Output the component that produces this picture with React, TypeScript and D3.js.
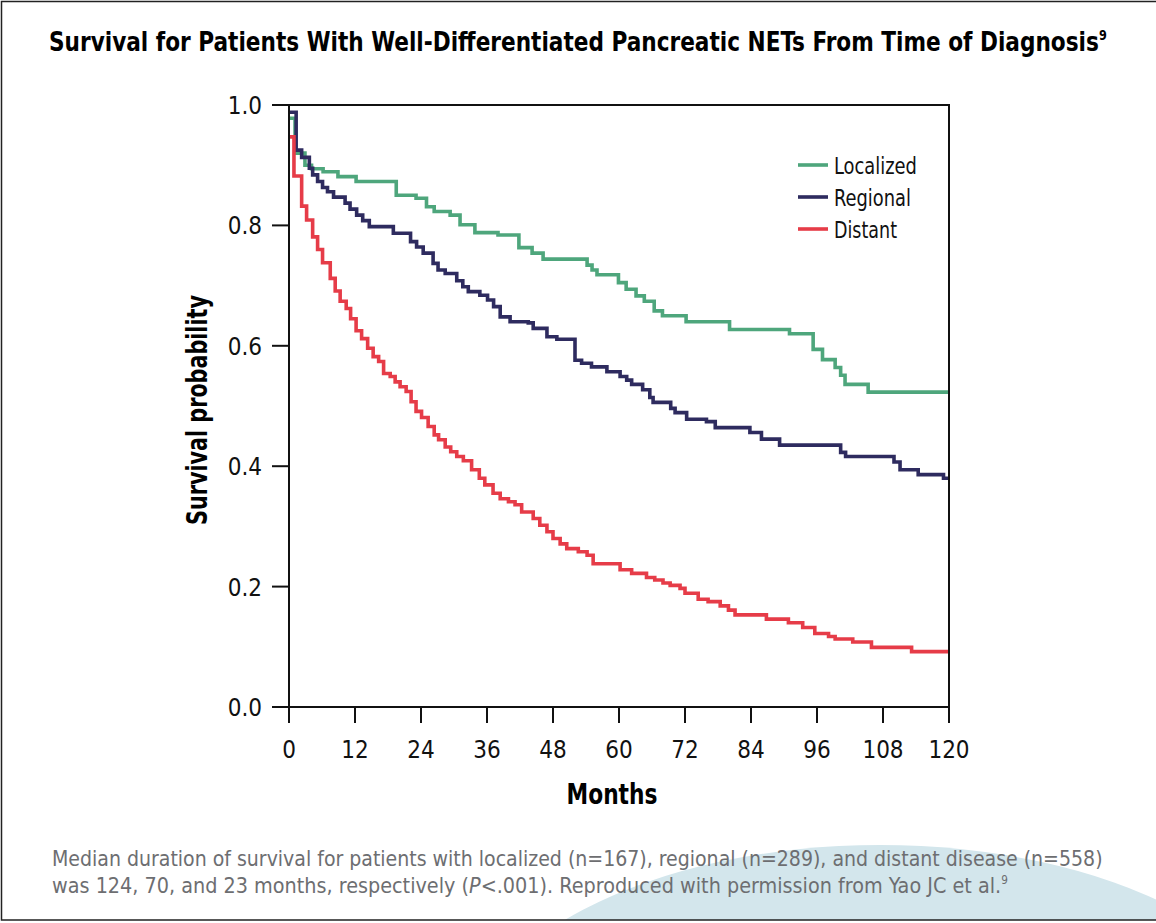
import React, { useEffect, useLayoutEffect, useRef, useState } from "react";
import * as d3 from "d3";

// ---- Data ----
const seriesNames = ["Localized", "Regional", "Distant"];

const localizedTimes = [0, 1.1, 2.9, 4.1, 6.2, 8.9, 12.2, 19.5, 23.1, 25.0, 26.4, 29.3, 31.1, 33.8, 38.0, 41.8, 44.2, 46.2, 54.2, 55.1, 56.0, 59.9, 61.3, 63.1, 64.6, 66.4, 67.9, 72.2, 80.1, 91.0, 95.3, 97.0, 99.3, 100.3, 101.1, 105.3, 120];
const localizedSurv = [0.978, 0.920, 0.900, 0.894, 0.889, 0.881, 0.873, 0.850, 0.845, 0.831, 0.823, 0.817, 0.801, 0.788, 0.784, 0.763, 0.754, 0.744, 0.734, 0.726, 0.718, 0.705, 0.694, 0.683, 0.674, 0.658, 0.650, 0.640, 0.627, 0.620, 0.594, 0.577, 0.564, 0.551, 0.536, 0.523, 0.523];

const regionalTimes = [0, 1.3, 2.3, 3.7, 4.3, 5.2, 6.1, 7.0, 8.1, 10.2, 11.1, 12.3, 13.4, 14.6, 18.97, 22.1, 23.2, 24.4, 26.2, 27.1, 28.4, 30.5, 31.6, 32.6, 34.7, 36.1, 37.2, 38.4, 40.2, 43.5, 44.4, 46.9, 48.7, 52.0, 53.2, 55.0, 57.8, 60.2, 61.4, 62.3, 64.3, 65.6, 66.2, 69.4, 70.2, 72.3, 75.9, 77.5, 83.8, 85.9, 89.2, 100.3, 101.2, 110.0, 111.1, 114.4, 119.0, 120];
const regionalSurv = [0.988, 0.925, 0.913, 0.895, 0.884, 0.873, 0.863, 0.856, 0.847, 0.837, 0.827, 0.817, 0.808, 0.798, 0.787, 0.773, 0.764, 0.754, 0.737, 0.726, 0.720, 0.708, 0.698, 0.690, 0.684, 0.676, 0.665, 0.648, 0.640, 0.638, 0.629, 0.615, 0.611, 0.576, 0.571, 0.565, 0.557, 0.549, 0.543, 0.536, 0.527, 0.514, 0.506, 0.496, 0.489, 0.478, 0.474, 0.464, 0.456, 0.445, 0.435, 0.423, 0.416, 0.407, 0.394, 0.386, 0.380, 0.380];

const distantTimes = [0, 0.9, 2.3, 3.2, 4.3, 5.2, 6.1, 7.5, 8.4, 9.3, 10.4, 11.2, 12.2, 13.2, 14.3, 15.3, 16.3, 17.2, 18.4, 19.3, 20.2, 21.3, 22.2, 23.1, 24.1, 25.3, 26.4, 27.2, 28.4, 29.4, 30.5, 31.7, 33.2, 34.6, 35.6, 37.1, 38.4, 39.9, 41.1, 42.3, 44.4, 45.6, 46.9, 48.0, 49.3, 50.5, 52.6, 54.2, 55.3, 60.2, 62.3, 65.0, 66.5, 68.0, 69.3, 71.1, 72.0, 74.4, 76.2, 78.4, 79.9, 81.1, 86.8, 90.8, 93.4, 95.6, 98.1, 99.3, 102.5, 105.9, 113.2, 120];
const distantSurv = [0.947, 0.882, 0.832, 0.809, 0.781, 0.760, 0.738, 0.712, 0.691, 0.674, 0.662, 0.645, 0.625, 0.612, 0.596, 0.582, 0.574, 0.554, 0.549, 0.540, 0.532, 0.524, 0.507, 0.491, 0.481, 0.466, 0.452, 0.444, 0.432, 0.424, 0.416, 0.409, 0.394, 0.380, 0.369, 0.355, 0.346, 0.341, 0.336, 0.324, 0.313, 0.302, 0.291, 0.280, 0.271, 0.263, 0.258, 0.252, 0.238, 0.228, 0.222, 0.215, 0.211, 0.206, 0.202, 0.197, 0.189, 0.179, 0.175, 0.168, 0.161, 0.153, 0.146, 0.140, 0.132, 0.122, 0.117, 0.113, 0.108, 0.099, 0.092, 0.092];

const xTicks = [0, 12, 24, 36, 48, 60, 72, 84, 96, 108, 120];
const yTicks = [0, 0.2, 0.4, 0.6, 0.8, 1.0];

const titleText = "Survival for Patients With Well-Differentiated Pancreatic NETs From Time of Diagnosis";
const captionLine1 = "Median duration of survival for patients with localized (n=167), regional (n=289), and distant disease (n=558)";
const captionLine2a = "was 124, 70, and 23 months, respectively (";
const captionLine2b = "P";
const captionLine2c = "<.001). Reproduced with permission from Yao JC et al.";
const refMark = "9";
const legendWidths = [83, 77, 63];

const colors = ["#4ea67c", "#2e2b5f", "#e63c48"];

const W = 1156;
const H = 923;
const FONT = "'DejaVu Sans Condensed', 'Liberation Sans', sans-serif";

type FitProps = {
  x: number;
  y: number;
  width: number;
  rotate?: number;
  anchor?: "start" | "middle" | "end";
  children: React.ReactNode;
  [k: string]: any;
};

// Text horizontally scaled so that its rendered width equals `width`.
function FitText({ x, y, width, rotate = 0, anchor = "start", children, ...rest }: FitProps) {
  const ref = useRef<SVGTextElement>(null);
  const [s, setS] = useState(1);
  useLayoutEffect(() => {
    if (ref.current) {
      const len = ref.current.getComputedTextLength();
      if (len > 0) setS(width / len);
    }
  }, [width]);
  return (
    <g transform={`translate(${x},${y}) rotate(${rotate}) scale(${s},1)`}>
      <text ref={ref} x={0} y={0} textAnchor={anchor} {...rest}>
        {children}
      </text>
    </g>
  );
}

export default function App() {
  useEffect(() => {
    document.body.style.margin = "0";
  }, []);

  const x = d3.scaleLinear().domain([0, 120]).range([289, 949]);
  const y = d3.scaleLinear().domain([0, 1]).range([707, 105]);

  const series = [
    { name: seriesNames[0], t: localizedTimes, s: localizedSurv, color: colors[0] },
    { name: seriesNames[1], t: regionalTimes, s: regionalSurv, color: colors[1] },
    { name: seriesNames[2], t: distantTimes, s: distantSurv, color: colors[2] },
  ];

  const line = d3
    .line<[number, number]>()
    .x((d) => x(d[0]))
    .y((d) => y(d[1]))
    .curve(d3.curveStepAfter);

  return (
    <svg width={W} height={H} style={{ position: "absolute", left: 0, top: 0, display: "block" }} fontFamily={FONT}>
      <rect x={0} y={0} width={W} height={H} fill="#ffffff" />
      <clipPath id="frameClip">
        <rect x={1} y={1} width={W} height={919} />
      </clipPath>
      <ellipse cx={880} cy={1066} rx={420} ry={221} fill="#d3e6ec" clipPath="url(#frameClip)" />
      {/* outer frame (no right edge) */}
      <path d={`M${W},1.5 H1.5 V920 H${W}`} fill="none" stroke="#222" strokeWidth={1.5} />

      {/* Title */}
      <FitText x={49} y={51} width={1058} fontSize={27} fontWeight="bold" fill="#000">
        {titleText}
        <tspan dy={-11} fontSize={14}>{refMark}</tspan>
      </FitText>

      {/* Curves */}
      {series.map((sr) => (
        <path
          key={sr.name}
          d={line(sr.t.map((t, i) => [t, sr.s[i]] as [number, number])) || ""}
          fill="none"
          stroke={sr.color}
          strokeWidth={3.6}
        />
      ))}

      {/* Plot box */}
      <path d={`M${x(0)},${y(1)} H${x(120)} V${y(0)} H${x(0)} Z`} fill="none" stroke="#111" strokeWidth={2} />

      {/* Y ticks */}
      {yTicks.map((v) => (
        <g key={"y" + v}>
          <line x1={x(0) - 17} x2={x(0)} y1={y(v)} y2={y(v)} stroke="#111" strokeWidth={2} />
          <text x={262} y={y(v) + 9} fontSize={24} textAnchor="end" fill="#111">
            {v.toFixed(1)}
          </text>
        </g>
      ))}

      {/* X ticks */}
      {xTicks.map((v) => (
        <g key={"x" + v}>
          <line x1={x(v)} x2={x(v)} y1={y(0)} y2={y(0) + 16} stroke="#111" strokeWidth={2} />
          <text x={x(v)} y={758} fontSize={24} textAnchor="middle" fill="#111">
            {v}
          </text>
        </g>
      ))}

      {/* Axis titles */}
      <FitText x={612} y={804} width={91} anchor="middle" fontSize={28} fontWeight="bold" fill="#000">
        Months
      </FitText>
      <FitText x={207} y={410} width={230} rotate={-90} anchor="middle" fontSize={28} fontWeight="bold" fill="#000">
        Survival probability
      </FitText>

      {/* Legend */}
      {series.map((sr, i) => (
        <g key={"leg" + sr.name}>
          <line x1={798} x2={828} y1={165 + i * 32} y2={165 + i * 32} stroke={sr.color} strokeWidth={3.6} />
          <FitText x={834} y={174 + i * 32} width={legendWidths[i]} fontSize={23} fill="#111">
            {sr.name}
          </FitText>
        </g>
      ))}

      {/* Caption */}
      <FitText x={52} y={866} width={1051} fontSize={22} fill="#6d6e71">
        {captionLine1}
      </FitText>
      <FitText x={52} y={893} width={956} fontSize={22} fill="#6d6e71">
        {captionLine2a}
        <tspan fontStyle="italic">{captionLine2b}</tspan>
        {captionLine2c}
        <tspan dy={-9} fontSize={12}>{refMark}</tspan>
      </FitText>
    </svg>
  );
}
